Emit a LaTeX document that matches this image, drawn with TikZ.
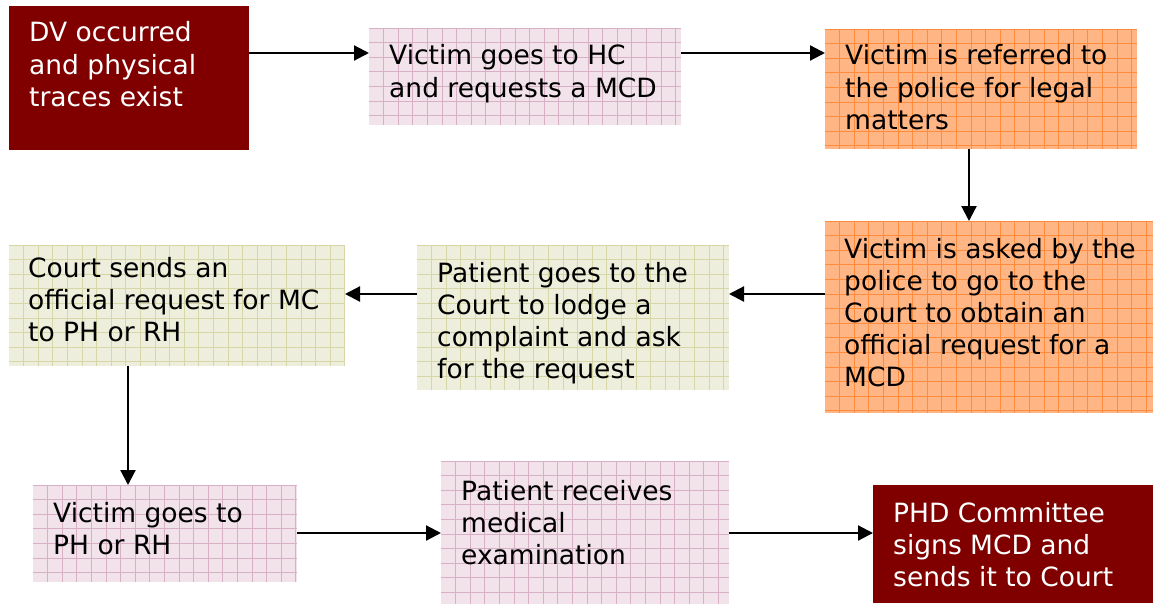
\documentclass[tikz,border=0pt]{standalone}
\usepackage{fontspec}
\setmainfont{DejaVu Sans}
\usetikzlibrary{arrows.meta}

\definecolor{maroon}{HTML}{800000}
\definecolor{pinkfill}{HTML}{F2E3EB}
\definecolor{pinkline}{HTML}{D7B0C6}
\definecolor{orangefill}{HTML}{FFB684}
\definecolor{orangeline}{HTML}{FF8C3C}
\definecolor{beigefill}{HTML}{EEEEDC}
\definecolor{beigeline}{HTML}{D6D6A6}

% graph-paper ruling inside a box, measured from its top-left corner
\newcommand\paintgrid[1]{%
  \foreach \k in {1,...,24}{%
    \draw[#1,line width=0.9pt]
      ([xshift=\k*14.6pt]path picture bounding box.north west) --
      ([xshift=\k*14.6pt]path picture bounding box.south west);
  }%
  \foreach \k in {0,...,14}{%
    \draw[#1,line width=0.9pt]
      ([yshift=-\k*14.6pt]path picture bounding box.north west) --
      ([yshift=-\k*14.6pt]path picture bounding box.north east);
  }%
}

\tikzset{
  panel/.style={rectangle, draw=none, inner sep=0pt, outer sep=0pt, anchor=north west},
  solidbox/.style={panel, fill=maroon},
  gridbox/.style 2 args={panel, fill=#1, path picture={\paintgrid{#2}}},
  pinkbox/.style={gridbox={pinkfill}{pinkline}},
  orangebox/.style={gridbox={orangefill}{orangeline}},
  beigebox/.style={gridbox={beigefill}{beigeline}},
  txt/.style={anchor=base west, inner sep=0pt, text=black,
    font=\fontsize{26.5}{32.2}\selectfont},
  lighttxt/.style={txt, text=white},
  arr/.style={draw=black, line width=2.2pt, -{Triangle[length=15pt,width=15pt]}},
}
\newcommand\lines[1]{\parbox[t]{320pt}{\raggedright #1}}

\begin{document}
\begin{tikzpicture}[x=1pt, y=-1pt]
\useasboundingbox[fill=white] (0,0) rectangle (1153,604);

% boxes
\node[solidbox, minimum width=240, minimum height=144] (dv)   at (9,6)     {};
\node[pinkbox,  minimum width=312, minimum height=97]  (hc)   at (369,28)  {};
\node[orangebox,minimum width=312, minimum height=120] (ref)  at (825,29)  {};
\node[orangebox,minimum width=328, minimum height=192] (ask)  at (825,221) {};
\node[beigebox, minimum width=312, minimum height=145] (court) at (417,245) {};
\node[beigebox, minimum width=336, minimum height=121] (sends) at (9,245)  {};
\node[pinkbox,  minimum width=264, minimum height=97]  (ph)   at (33,485)  {};
\node[pinkbox,  minimum width=288, minimum height=143] (exam) at (441,461) {};
\node[solidbox, minimum width=280, minimum height=118] (phd)  at (873,485) {};

% texts
\node[lighttxt] (dv-t)    at (29,42)   {\lines{DV occurred\\and physical\\traces exist}};
\node[txt]      (hc-t)    at (389,65)  {\lines{Victim goes to HC\\and requests a MCD}};
\node[txt]      (ref-t)   at (845,65)  {\lines{Victim is referred to\\the police for legal\\matters}};
\node[txt]      (ask-t)   at (844,258) {\lines{Victim is asked by the\\police to go to the\\Court to obtain an\\official request for a\\MCD}};
\node[txt]      (court-t) at (437,282) {\lines{Patient goes to the\\Court to lodge a\\complaint and ask\\for the request}};
\node[txt]      (sends-t) at (28,277)  {\lines{Court sends an\\official request for MC\\to PH or RH}};
\node[txt]      (ph-t)    at (53,522)  {\lines{Victim goes to\\PH or RH}};
\node[txt]      (exam-t)  at (461,500) {\lines{Patient receives\\medical\\examination}};
\node[lighttxt] (phd-t)   at (893,522) {\lines{PHD Committee\\signs MCD and\\sends it to Court}};

% connector guide lines
\coordinate (rowA) at (0,53);
\coordinate (rowB) at (0,294);
\coordinate (rowC) at (0,533);
\coordinate (colA) at (969,0);
\coordinate (colB) at (128,0);

% connectors
\draw[arr] (dv.east |- rowA)    -- (hc.west |- rowA);
\draw[arr] (hc.east |- rowA)    -- (ref.west |- rowA);
\draw[arr] (ref.south -| colA)  -- (ask.north -| colA);
\draw[arr] (ask.west |- rowB)   -- (court.east |- rowB);
\draw[arr] (court.west |- rowB) -- (sends.east |- rowB);
\draw[arr] (sends.south -| colB) -- (ph.north -| colB);
\draw[arr] (ph.east |- rowC)    -- (exam.west |- rowC);
\draw[arr] (exam.east |- rowC)  -- (phd.west |- rowC);
\end{tikzpicture}
\end{document}
